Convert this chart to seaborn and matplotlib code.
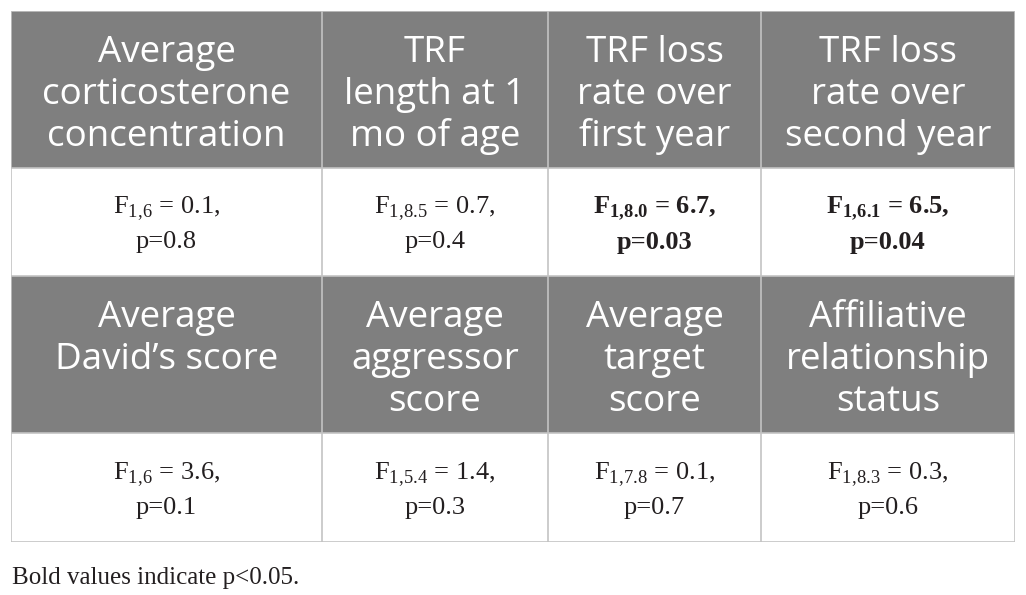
import numpy as np
import matplotlib.pyplot as plt
import seaborn as sns

# table contents
headers_top = ["Average\ncorticosterone\nconcentration", "TRF\nlength at 1\nmo of age",
               "TRF loss\nrate over\nfirst year", "TRF loss\nrate over\nsecond year"]
headers_bottom = ["Average\nDavid\u2019s score", "Average\naggressor\nscore",
                  "Average\ntarget\nscore", "Affiliative\nrelationship\nstatus"]
df_top = ["1,6", "1,8.5", "1,8.0", "1,6.1"]
f_top = ["0.1", "0.7", "6.7", "6.5"]
p_top = ["0.8", "0.4", "0.03", "0.04"]
df_bottom = ["1,6", "1,5.4", "1,7.8", "1,8.3"]
f_bottom = ["3.6", "1.4", "0.1", "0.3"]
p_bottom = ["0.1", "0.3", "0.7", "0.6"]
bold_top = [False, False, True, True]
bold_bottom = [False, False, False, False]
footnote = "Bold values indicate p<0.05."

# layout in pixels
col_w = [311, 226, 213, 254]
row_h = [157, 108, 157, 109]
header_grey = "#7f7f7f"
line_grey = "#c3c3c3"

sns.set_theme(style="white")
plt.rcParams["mathtext.fontset"] = "custom"
plt.rcParams["mathtext.rm"] = "Liberation Serif"

W, H = 1026, 595
fig = plt.figure(figsize=(W / 100, H / 100), dpi=100)
ax = fig.add_axes([11 / W, 1 - (11 + sum(row_h)) / H, sum(col_w) / W, sum(row_h) / H])

# cell backgrounds: 1 = header row, 0 = body row, expanded to pixel grid
kind = np.array([1, 0, 1, 0])
grid = np.repeat(np.repeat(kind[:, None], 4, axis=1), row_h, axis=0)
grid = np.repeat(grid, col_w, axis=1)
sns.heatmap(grid, ax=ax, cmap=["white", header_grey], cbar=False,
            xticklabels=False, yticklabels=False, rasterized=True)

x_edges = np.concatenate([[0], np.cumsum(col_w)])
y_edges = np.concatenate([[0], np.cumsum(row_h)])
for x in x_edges:
    ax.axvline(x, color=line_grey, lw=1.2)
for y in y_edges:
    ax.axhline(y, color=line_grey, lw=1.2)
for s in ax.spines.values():
    s.set_visible(False)

xc = (x_edges[:-1] + x_edges[1:]) / 2
yc = (y_edges[:-1] + y_edges[1:]) / 2

rows = [(headers_top, df_top, f_top, p_top, bold_top),
        (headers_bottom, df_bottom, f_bottom, p_bottom, bold_bottom)]
for r, (heads, dfs, fs, ps, bolds) in enumerate(rows):
    for c in range(4):
        # header lines are top aligned, one baseline every 42 px
        for i, line in enumerate(heads[c].split("\n")):
            ax.text(xc[c], y_edges[2 * r] + 51 + 42 * i, line, ha="center", va="baseline",
                    color="white", fontsize=26.5, family="Open Sans")
        sub = dfs[c].replace(",", ",\\!")
        label = "F$_{\\mathregular{%s}}$ = %s,\np=%s" % (sub, fs[c], ps[c])
        ax.text(xc[c], yc[2 * r + 1] + 2, label, ha="center", va="center", color="#231f20",
                fontsize=19, family="Liberation Serif", linespacing=1.45,
                fontweight="bold" if bolds[c] else "normal")

fig.text(12 / W, 1 - 578 / H, footnote, ha="left", va="center", color="#231f20",
         fontsize=18, family="Liberation Serif")

fig.savefig("out.png", dpi=100)
